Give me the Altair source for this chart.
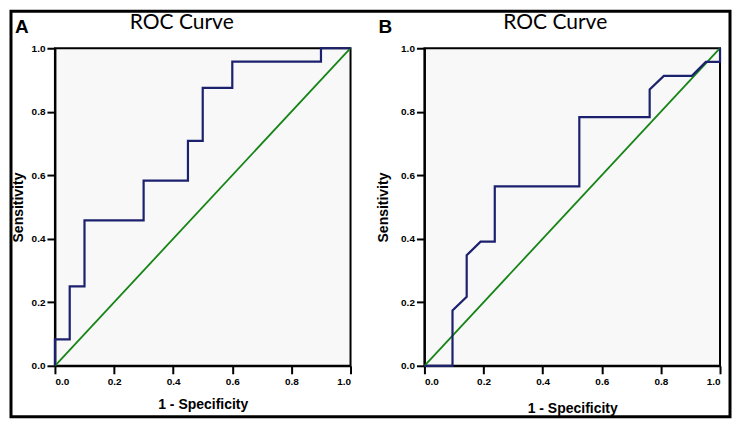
import altair as alt
import pandas as pd

# Panel A ROC curve points (1 - specificity, sensitivity)
a_fpr = [0.0, 0.0, 0.05, 0.05, 0.10, 0.10, 0.30, 0.30, 0.45, 0.45, 0.50, 0.50, 0.60, 0.60, 0.90, 0.90, 1.0]
a_tpr = [0.0, 0.083, 0.083, 0.25, 0.25, 0.458, 0.458, 0.583, 0.583, 0.708, 0.708, 0.875, 0.875, 0.958, 0.958, 1.0, 1.0]

# Panel B ROC curve points
b_fpr = [0.0, 0.095, 0.095, 0.143, 0.143, 0.19, 0.238, 0.238, 0.524, 0.524, 0.762, 0.762, 0.81, 0.905, 0.952, 1.0, 1.0]
b_tpr = [0.0, 0.0, 0.174, 0.217, 0.348, 0.391, 0.391, 0.565, 0.565, 0.783, 0.783, 0.870, 0.913, 0.913, 0.957, 0.957, 1.0]

diag = [0.0, 1.0]
ticks = [0.0, 0.2, 0.4, 0.6, 0.8, 1.0]
panel_labels = ["A", "B"]
title_text = "ROC Curve"
x_title = "1 - Specificity"
y_title = "Sensitivity"

NAVY = "#1c216e"
GREEN = "#168416"
W, H = 296, 318


def panel(fpr, tpr, letter, title_dx, x_title_pad, y_title_pad, frame=False):
    curve_df = pd.DataFrame({"x": fpr, "y": tpr, "i": list(range(len(fpr)))})
    diag_df = pd.DataFrame({"x": diag, "y": diag})
    one = pd.DataFrame({"k": [0]})

    xs = alt.Scale(domain=[0, 1], nice=False)
    ys = alt.Scale(domain=[0, 1], nice=False)
    xax = alt.Axis(values=ticks, format=".1f", title=x_title, labelPadding=3, titlePadding=x_title_pad)
    yax = alt.Axis(values=ticks, format=".1f", title=y_title, labelPadding=2, titlePadding=y_title_pad)

    diag_line = alt.Chart(diag_df).mark_line(color=GREEN, strokeWidth=1.8).encode(
        x=alt.X("x:Q", scale=xs, axis=xax),
        y=alt.Y("y:Q", scale=ys, axis=yax),
    )
    curve = alt.Chart(curve_df).mark_line(color=NAVY, strokeWidth=2.2).encode(
        x=alt.X("x:Q", scale=xs, axis=xax),
        y=alt.Y("y:Q", scale=ys, axis=yax),
        order="i:O",
    )
    title = alt.Chart(one).mark_text(
        text=title_text, font="Lato", fontSize=21, align="center", baseline="alphabetic", color="black"
    ).encode(x=alt.value(W / 2 + title_dx), y=alt.value(-19))
    lab = alt.Chart(one).mark_text(
        text=letter, font="Liberation Sans", fontWeight="bold", fontSize=19,
        align="left", baseline="alphabetic", color="black"
    ).encode(x=alt.value(-40 if frame else -46), y=alt.value(-15))
    layers = [diag_line, curve, title, lab]
    if frame:
        fr = alt.Chart(one).mark_rect(
            fillOpacity=0, stroke="black", strokeWidth=3, clip=False
        ).encode(x=alt.value(-44), x2=alt.value(676), y=alt.value(-37), y2=alt.value(369))
        layers.append(fr)
    return alt.layer(*layers).properties(width=W, height=H)


pa = panel(a_fpr, a_tpr, panel_labels[0], -21, 11, 6, frame=True)
pb = panel(b_fpr, b_tpr, panel_labels[1], -17, 15, 10)

chart = alt.hconcat(pa, pb, spacing=74, bounds="flush").properties(
    padding=0, background="white"
).configure_view(
    fill="#f8f8f9", stroke="black", strokeWidth=2
).configure_axis(
    grid=False,
    domainColor="black", domainWidth=2,
    tickColor="black", tickWidth=2, tickSize=8,
    labelFont="Liberation Sans", labelFontWeight="bold", labelFontSize=10, labelColor="black",
    titleFont="Liberation Sans", titleFontWeight="bold", titleFontSize=14, titleColor="black",
)

chart.save("out.html", embed_options={"renderer": "svg", "actions": False})
